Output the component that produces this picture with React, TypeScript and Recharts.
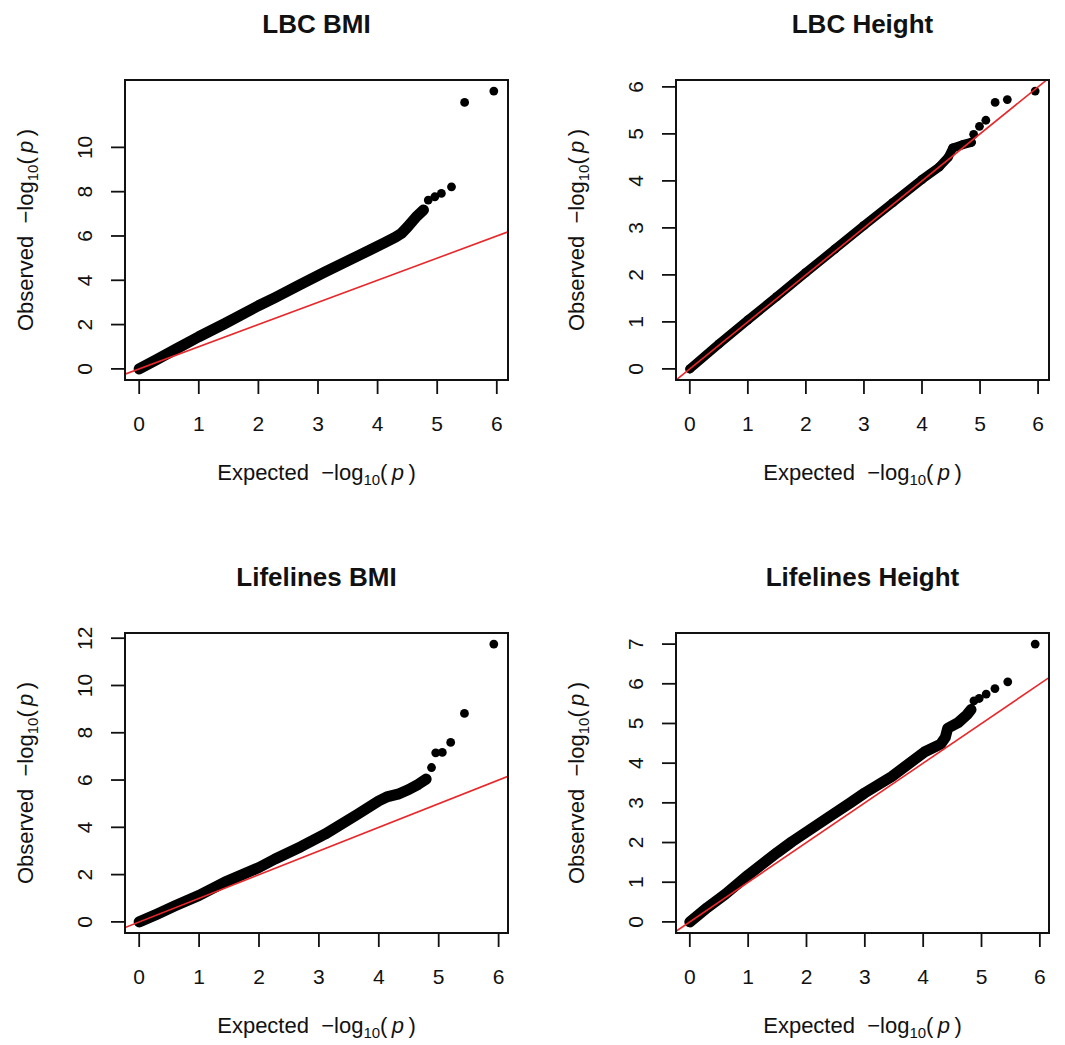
import React from 'react';
import { ScatterChart, Scatter, XAxis, YAxis, ReferenceLine, ReferenceArea } from 'recharts';

const FONT = '"Liberation Sans", Arial, Helvetica, sans-serif';

// Shared x ticks (expected -log10 p)
const xTicks = [0, 1, 2, 3, 4, 5, 6];

// ---- LBC BMI ----
const lbcBmiTitle = 'LBC BMI';
const lbcBmiBand: [number, number][] = [
  [0, 0], [0.3, 0.43], [0.6, 0.87], [1.0, 1.45], [1.44, 2.05], [2.0, 2.85], [2.28, 3.22], [2.7, 3.8],
  [3.12, 4.38], [3.67, 5.1], [4.12, 5.7], [4.3, 5.95], [4.4, 6.12], [4.5, 6.4], [4.65, 6.87], [4.77, 7.17],
];
const lbcBmiTail: [number, number][] = [
  [4.85, 7.62], [4.96, 7.77], [5.07, 7.92], [5.24, 8.22], [5.46, 12.03], [5.95, 12.54],
];
const lbcBmiYTicks = [0, 2, 4, 6, 8, 10];

// ---- LBC Height ----
const lbcHeightTitle = 'LBC Height';
const lbcHeightBand: [number, number][] = [
  [0, 0], [0.5, 0.53], [1, 1.04], [1.5, 1.54], [2, 2.05], [2.5, 2.55], [3, 3.05], [3.5, 3.54],
  [4, 4.03], [4.3, 4.3], [4.45, 4.5], [4.53, 4.7], [4.7, 4.77], [4.85, 4.82],
];
const lbcHeightTail: [number, number][] = [
  [4.89, 4.99], [4.99, 5.16], [5.1, 5.29], [5.26, 5.67], [5.47, 5.73], [5.95, 5.91],
];
const lbcHeightYTicks = [0, 1, 2, 3, 4, 5, 6];

// ---- Lifelines BMI ----
const lifeBmiTitle = 'Lifelines BMI';
const lifeBmiBand: [number, number][] = [
  [0, 0], [0.3, 0.33], [0.6, 0.68], [1.0, 1.12], [1.43, 1.68], [2.0, 2.3], [2.26, 2.65], [2.7, 3.18],
  [3.1, 3.71], [3.65, 4.56], [4.0, 5.12], [4.15, 5.3], [4.32, 5.4], [4.5, 5.6], [4.66, 5.82], [4.79, 6.04],
];
const lifeBmiTail: [number, number][] = [
  [4.88, 6.53], [4.95, 7.15], [5.06, 7.17], [5.2, 7.59], [5.43, 8.82], [5.92, 11.75],
];
const lifeBmiYTicks = [0, 2, 4, 6, 8, 10, 12];

// ---- Lifelines Height ----
const lifeHeightTitle = 'Lifelines Height';
const lifeHeightBand: [number, number][] = [
  [0, 0], [0.3, 0.36], [0.61, 0.7], [1.0, 1.18], [1.5, 1.75], [1.75, 2.02], [2.32, 2.58], [2.75, 3.0],
  [3.0, 3.25], [3.46, 3.66], [4.02, 4.28], [4.3, 4.48], [4.38, 4.65], [4.42, 4.88], [4.6, 5.02], [4.75, 5.22], [4.82, 5.35],
];
const lifeHeightTail: [number, number][] = [
  [4.87, 5.57], [4.96, 5.63], [5.08, 5.74], [5.23, 5.88], [5.45, 6.05], [5.92, 7.0],
];
const lifeHeightYTicks = [0, 1, 2, 3, 4, 5, 6, 7];

const RED = '#e8282a';

// R-style 4% axis extension
const ext = (max: number): [number, number] => [-0.04 * max, 1.04 * max];

const LogText = ({ prefix }: { prefix: string }) => (
  <>
    {prefix + '\u00a0\u00a0\u2212log'}
    <tspan fontSize={15} dy={5}>10</tspan>
    <tspan dy={-5}>(</tspan>
    <tspan fontStyle="italic">{'\u2009p\u2009'}</tspan>
    <tspan>)</tspan>
  </>
);

const XTick = (props: any) => {
  const { x, y, payload } = props;
  return (
    <text x={x} y={y} textAnchor="middle" fontFamily={FONT} fontSize={21} fill="#111">
      {payload.value}
    </text>
  );
};

const YTick = (props: any) => {
  const { x, y, payload } = props;
  return (
    <text x={x} y={y} textAnchor="middle" fontFamily={FONT} fontSize={21} fill="#111"
      transform={`rotate(-90 ${x} ${y})`}>
      {payload.value}
    </text>
  );
};

const XTitle = (props: any) => {
  const vb = props.viewBox || {};
  const cx = vb.x + vb.width / 2;
  const cy = vb.y + 100;
  return (
    <text x={cx} y={cy} textAnchor="middle" fontFamily={FONT} fontSize={22} fill="#111">
      <LogText prefix="Expected" />
    </text>
  );
};

const YTitle = (props: any) => {
  const vb = props.viewBox || {};
  const cx = vb.x + vb.width - 92;
  const cy = vb.y + vb.height / 2;
  return (
    <text x={cx} y={cy} textAnchor="middle" fontFamily={FONT} fontSize={22} fill="#111"
      transform={`rotate(-90 ${cx} ${cy})`}>
      <LogText prefix="Observed" />
    </text>
  );
};

const makeTitle = (title: string) => (props: any) => {
  const vb = props.viewBox || {};
  return (
    <text x={vb.x + vb.width / 2} y={vb.y - 47} textAnchor="middle" fontFamily={FONT}
      fontSize={26} fontWeight="bold" fill="#111">
      {title}
    </text>
  );
};

const dot = (r: number) => (p: any) => <circle cx={p.cx} cy={p.cy} r={r} fill="#000" />;

type PanelProps = {
  title: string;
  band: [number, number][];
  tail: [number, number][];
  yTicks: number[];
  left: number;
  top: number;
  padLeft: number;
  padRight: number;
  bandWidth: number;
};

const W = 532;
const H = 520;
const Y_AXIS_W = 60;
const X_AXIS_H = 60;

function Panel({ title, band, tail, yTicks, left, top, padLeft, padRight, bandWidth }: PanelProps) {
  const all = band.concat(tail);
  const xMax = Math.max(...all.map((d) => d[0]));
  const yMax = Math.max(...all.map((d) => d[1]));
  const xDomain = ext(xMax);
  const yDomain = ext(yMax);
  const bandData = band.map(([x, y]) => ({ x, y }));
  const tailData = tail.map(([x, y]) => ({ x, y }));
  const tickLine = { stroke: '#111', strokeWidth: 1.8 };
  return (
    <div style={{ position: 'absolute', left, top, width: W, height: H }}>
      <ScatterChart width={W} height={H}
        margin={{ top: 80, right: padRight, bottom: 140 - X_AXIS_H, left: padLeft - Y_AXIS_W }}>
        <XAxis type="number" dataKey="x" domain={xDomain} allowDataOverflow ticks={xTicks} interval={0}
          height={X_AXIS_H} axisLine={false} tickLine={tickLine} tickSize={14} tickMargin={37}
          tick={<XTick />} label={{ content: XTitle }} />
        <YAxis type="number" dataKey="y" domain={yDomain} allowDataOverflow ticks={yTicks} interval={0}
          width={Y_AXIS_W} axisLine={false} tickLine={tickLine} tickSize={14} tickMargin={19}
          tick={<YTick />} label={{ content: YTitle }} />
        <Scatter data={bandData} fill="#000" isAnimationActive={false}
          line={{ stroke: '#000', strokeWidth: bandWidth, strokeLinecap: 'round', strokeLinejoin: 'round' }}
          shape={dot(4.5)} />
        <Scatter data={tailData} fill="#000" isAnimationActive={false} shape={dot(4.4)} />
        <ReferenceLine segment={[{ x: xDomain[0], y: xDomain[0] }, { x: xDomain[1], y: xDomain[1] }]}
          stroke={RED} strokeWidth={1.6} ifOverflow="hidden" zIndex={700} />
        <ReferenceArea x1={xDomain[0]} x2={xDomain[1]} y1={yDomain[0]} y2={yDomain[1]}
          fill="none" fillOpacity={0} stroke="#111" strokeWidth={2} strokeOpacity={1}
          ifOverflow="visible" zIndex={800} label={{ content: makeTitle(title) }} />
      </ScatterChart>
    </div>
  );
}

export default function App() {
  return (
    <div style={{ position: 'absolute', left: 0, top: 0, width: 1065, height: 1045, background: '#fff' }}>
      <Panel title={lbcBmiTitle} band={lbcBmiBand} tail={lbcBmiTail} yTicks={lbcBmiYTicks}
        left={0} top={0} padLeft={125} padRight={24} bandWidth={11} />
      <Panel title={lbcHeightTitle} band={lbcHeightBand} tail={lbcHeightTail} yTicks={lbcHeightYTicks}
        left={532} top={0} padLeft={144} padRight={15} bandWidth={9} />
      <Panel title={lifeBmiTitle} band={lifeBmiBand} tail={lifeBmiTail} yTicks={lifeBmiYTicks}
        left={0} top={553} padLeft={125} padRight={24} bandWidth={11} />
      <Panel title={lifeHeightTitle} band={lifeHeightBand} tail={lifeHeightTail} yTicks={lifeHeightYTicks}
        left={532} top={553} padLeft={144} padRight={15} bandWidth={11} />
    </div>
  );
}
